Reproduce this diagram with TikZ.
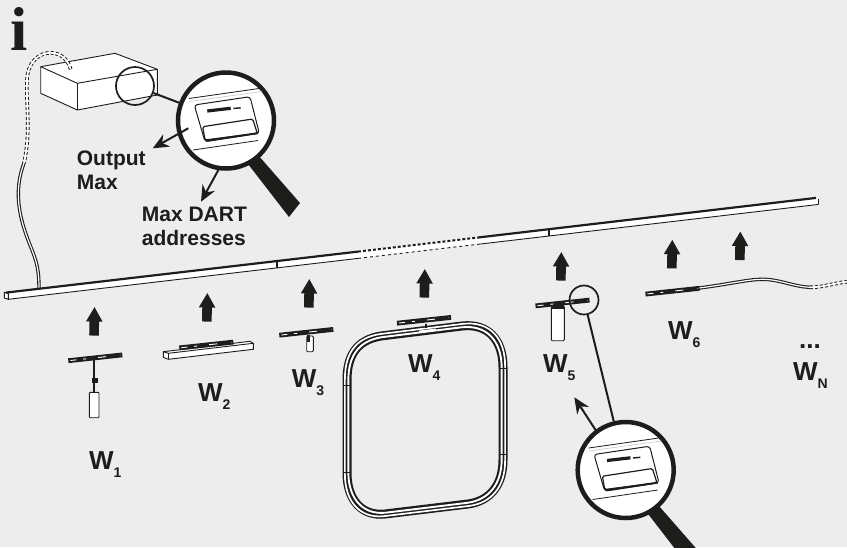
\documentclass[tikz,border=0pt]{standalone}
\usepackage{fontspec}
\setmainfont{Liberation Sans}
\newfontfamily\infofont{Liberation Serif}
\usepackage{xcolor}
\usepackage{tikz}
\usetikzlibrary{arrows.meta,calc,positioning,shapes.arrows}
\definecolor{ink}{HTML}{1D1D1B}
\definecolor{backdrop}{HTML}{EDEDED}
\tikzstyle{liftarrow} = [single arrow, fill=ink, inner xsep=0pt, inner ysep=4.6pt, outer sep=0pt, yshift=-4pt, rotate=89,
  minimum height=28.4pt, minimum width=16pt, single arrow head extend=3.5pt, single arrow tip angle=60]
\tikzstyle{pointer} = [draw=ink, line width=2pt, -{Stealth[length=16pt,width=14pt]}]
\tikzstyle{leader} = [draw=ink, line width=2pt]
\tikzstyle{wlabel} = [anchor=base west, inner sep=0pt, text=ink, font=\bfseries\fontsize{26}{26}\selectfont]
\tikzstyle{note} = [anchor=base west, inner sep=0pt, text=ink, align=left, font=\bfseries\fontsize{21}{24}\selectfont]
\tikzstyle{spot} = [circle, draw=ink, line width=1.7pt, inner sep=0pt]
\tikzstyle{lensrim} = [circle, draw=ink, fill=white, line width=4.5pt, inner sep=0pt, minimum size=96pt]
\tikzstyle{edge} = [draw=ink, line width=0.9pt]
\tikzstyle{band} = [draw=ink, line width=2.2pt]
\tikzstyle{cable} = [draw=ink, line width=3.4pt, postaction={draw=white, line width=1.2pt}]
\tikzstyle{cablegap} = [draw=ink, line width=3.6pt, dash pattern=on 3pt off 2pt,
  postaction={draw=white, solid, line width=1.7pt}]
\tikzstyle{lampbody} = [draw=ink, fill=white, line width=0.9pt, rounded corners=1pt]
\newcommand{\wmark}[1]{W\raisebox{-8pt}{\fontsize{14}{14}\selectfont #1}}
\newcommand{\ringpath}{(-78,-40) .. controls (-78,-68) and (-65,-82) .. (-40,-84.5) -- (37,-94) .. controls (63,-97) and (78,-80) .. (78,-53) -- (78,40) .. controls (78,65) and (65,81) .. (43,84) -- (-40,94) .. controls (-63,96.5) and (-78,80) .. (-78,53) -- cycle}
\tikzset{
  adapter/.pic={
    \draw[ink, line width=4.8pt] (-27,2.9) -- (27,-2.9);
    \draw[white, line width=0.9pt, dash pattern=on 6pt off 7pt on 3pt off 12pt on 8pt off 14pt on 5pt off 20pt] (-25,2.7) -- (25,-2.7);
  },
  magnifier/.pic={
    \fill[ink] (20.7,41.8) -- (32,34.5) -- (74,82.5) -- (63,96.5) -- cycle;
    \node (-rim) [lensrim] at (0,0) {};
    \draw[ink, line width=0.8pt] (-37,-22) -- (33,-32);
    \draw[black!25, line width=0.5pt] (-37,-19) -- (36,-29);
    \draw[ink, line width=0.8pt] (-33,29.5) -- (32,20);
    \draw[ink, line width=1pt, rounded corners=3pt] (-31.7,-15.5) -- (24,-23.8) -- (33.3,12.8) -- (-21,21.2) -- cycle;
    \draw[ink, line width=1.2pt, rounded corners=1.5pt] (-23.3,6.2) -- (26.7,-1.5) -- (31.3,12.8) -- (-21,19.5) -- cycle;
    \draw[ink, line width=1.8pt] (-20,20.3) -- (32,12.6);
    \draw[ink, line width=3.2pt] (-18.7,-9.5) -- (4.7,-12.2);
    \draw[ink, line width=1.4pt] (7.3,-12) -- (14.7,-12.7);
  }
}
\begin{document}
\begin{tikzpicture}[x=1pt, y=-1pt]
  \useasboundingbox (0,0) rectangle (847,547);
  \fill[backdrop] (0,0) rectangle (847,547);
  \clip (0,0) rectangle (847,547);

  \node (infoMark) [anchor=base west, inner sep=0pt, text=ink, font=\infofont\bfseries\fontsize{62}{62}\selectfont] at (10.5,50) {i};

  \draw[edge, fill=white, line join=round] (40.7,66.7) -- (115,53.3) -- (157.3,69.3) -- (157.3,95) -- (77.3,110) -- (40.7,93.3) -- cycle;
  \draw[edge] (40.7,66.7) -- (77.3,83.3) -- (157.3,69.3);
  \draw[edge] (77.3,83.3) -- (77.3,110);
  \coordinate (plugTop) at (70.7,69.3);
  \coordinate (plugMid) at (24,163);
  \coordinate (plugEnd) at (39,289);
  \draw[cablegap] (plugTop) .. controls (64,44) and (28,48) .. (27,80) .. controls (26,110) and (31,130) .. (plugMid);
  \draw[cable] (plugMid) .. controls (14,190) and (18,215) .. (30,245) .. controls (37,262) and (39,270) .. (plugEnd);

  \path[fill=white] (4.3,292.3) -- (813,197.3) -- (818.7,198.5) -- (818.7,204.4) -- (8.3,299.3) -- (4.3,298) -- cycle;
  \coordinate (railA) at (6,292.6);
  \coordinate (railB) at (358,251.6);
  \coordinate (railC) at (478,237.5);
  \coordinate (railD) at (816,197.9);
  \coordinate (baseA) at (8.3,299.3);
  \coordinate (baseB) at (358,258.4);
  \coordinate (baseC) at (478,244.3);
  \coordinate (baseD) at (818.7,204.4);
  \draw[band] (railA) -- (railB);
  \draw[band] (railC) -- (railD);
  \draw[band, line width=2pt, dash pattern=on 3pt off 2pt] (railB) -- (railC);
  \draw[edge] (baseA) -- (baseB);
  \draw[edge] (baseC) -- (baseD);
  \draw[edge, dashed] (baseB) -- (baseC);
  \draw[edge] (4.3,292.3) -- (8.3,293.6) -- (baseA) -- (4.3,298) -- cycle;
  \draw[edge] (818.7,198.5) -- (baseD);
  \draw[edge, line width=1.2pt] (277,260.5) -- (277,267.5);
  \draw[edge, line width=1.2pt] (549,228.5) -- (549,236);

  \node (lift1) [liftarrow] at (94.2,321.5) {};
  \node (lift2) [liftarrow] at (207,307.5) {};
  \node (lift3) [liftarrow] at (309,293.5) {};
  \node (lift4) [liftarrow] at (424.5,283.5) {};
  \node (lift5) [liftarrow] at (561,266.5) {};
  \node (lift6) [liftarrow] at (672,254.3) {};
  \node (lift7) [liftarrow] at (740,246) {};

  \draw[ink, line width=2.4pt] (94,360) -- (94,392);
  \fill[ink] (91.8,377.5) rectangle (98.2,382.5);
  \draw[lampbody] (89.3,392.3) rectangle (99,417.7);
  \pic at (95.3,357.8) {adapter};

  \draw[edge, fill=white] (163.3,351.7) -- (250,341.3) -- (253.3,343.3) -- (253.3,349.3) -- (168.3,359.3) -- (163.3,357.3) -- cycle;
  \draw[edge] (163.3,351.7) -- (168.3,353.3) -- (253.3,343.3);
  \draw[edge] (168.3,353.3) -- (168.3,359.3);
  \pic at (206.3,345) {adapter};

  \draw[lampbody] (306.7,336) rectangle (313.3,351.7);
  \fill[ink] (306.7,335) rectangle (309.5,342);
  \pic at (306.3,332.3) {adapter};

  \begin{scope}[shift={(425,420)}]
    \draw[ink, line width=9pt] \ringpath;
    \draw[white, line width=1.7pt, xscale=1.027, yscale=1.023] \ringpath;
    \draw[white, line width=1.9pt, xscale=0.983, yscale=0.986] \ringpath;
  \end{scope}
  \draw[ink, line width=0.8pt] (342.5,385) -- (350,385);
  \draw[ink, line width=0.8pt] (342.5,472.7) -- (350,472.7);
  \draw[ink, line width=0.8pt] (499,368) -- (507,368);
  \draw[ink, line width=0.8pt] (499,454.5) -- (507,454.5);
  \draw[white, line width=2pt] (419,331.6) -- (436,329.6);
  \draw[ink, line width=2pt] (425.5,324) -- (425.5,328);
  \pic at (424,320.3) {adapter};

  \draw[lampbody] (551.3,306) rectangle (564.3,340.7);
  \fill[ink] (552,304) rectangle (563.5,309);
  \pic at (562.5,303) {adapter};

  \coordinate (feedA) at (672,291.5);
  \coordinate (feedB) at (810,287.3);
  \coordinate (feedC) at (846.7,281.7);
  \draw[cable] (feedA) -- (699.3,288) .. controls (730,284) and (750,279) .. (763.3,279.3) .. controls (780,279.5) and (795,287) .. (feedB);
  \draw[cablegap] (feedB) .. controls (822,287.5) and (835,283) .. (feedC);
  \pic at (672.5,291.2) {adapter};

  \node (w1) [wlabel] at (89,469) {\wmark{1}};
  \node (w2) [wlabel] at (198,401.7) {\wmark{2}};
  \node (w3) [wlabel] at (291.7,387) {\wmark{3}};
  \node (w4) [wlabel] at (408,372) {\wmark{4}};
  \node (w5) [wlabel] at (543,372) {\wmark{5}};
  \node (w6) [wlabel] at (668,339) {\wmark{6}};
  \node (dots) [wlabel] at (799,348.5) {...};
  \node (wn) [wlabel] at (793,380.7) {\wmark{N}};

  \node (spotA) [spot, minimum size=38pt] at (135,86) {};
  \node (spotB) [spot, minimum size=29pt] at (584,300) {};
  \pic (lensA) at (226,120.5) {magnifier};
  \pic (lensB) at (625.7,470) {magnifier};
  \draw[leader] (spotA) -- (lensA-rim);
  \draw[leader] (spotB) -- (lensB-rim);

  \node (outLabel) [note] at (76.7,189) {Output\\Max};
  \node (maxLabel) [note] at (141.7,245) {Max DART\\addresses};
  \coordinate (outFrom) at (188.3,128.3);
  \coordinate (outTo) at (152.7,148.3);
  \coordinate (maxFrom) at (219.3,168.3);
  \coordinate (maxTo) at (201,201.7);
  \coordinate (lampFrom) at (596.7,431.7);
  \coordinate (lampTo) at (574.3,397.3);
  \draw[pointer] (outFrom) -- (outTo);
  \draw[pointer] (maxFrom) -- (maxTo);
  \draw[pointer] (lampFrom) -- (lampTo);
\end{tikzpicture}
\end{document}
